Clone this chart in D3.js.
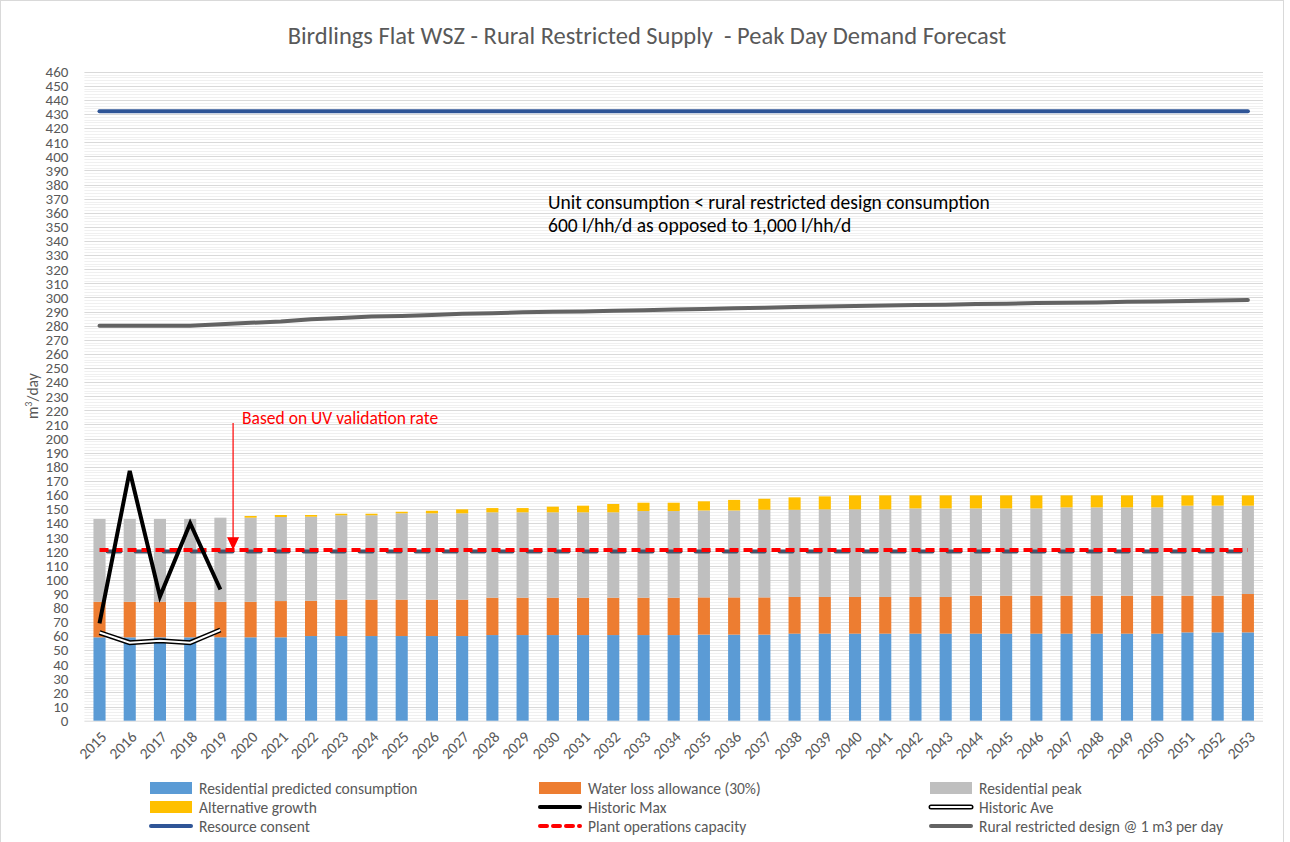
<!DOCTYPE html>
<html>
<head>
<meta charset="utf-8">
<script src="https://cdn.jsdelivr.net/npm/d3@7"></script>
<style>
  html, body { margin: 0; padding: 0; background: #fff; }
  svg text { font-family: Carlito, Calibri, 'Liberation Sans', Arial, sans-serif; }
</style>
</head>
<body>
<svg id="chart" width="1290" height="842"></svg>
<script>
// ---- data ----
const years = d3.range(2015, 2054).map(String);

const residentialPredicted = [
  59.1, 59.1, 59.1, 59.1, 59.1, 59.1, 59.1, 60, 60, 60,
  60, 60, 60, 60.7, 60.7, 60.7, 60.7, 60.7, 60.7, 60.7,
  61, 61, 61, 61.7, 61.7, 61.7, 61.7, 61.7, 61.7, 61.7,
  61.7, 61.7, 61.7, 61.7, 61.7, 61.7, 62.6, 62.6, 62.6
];
const waterLoss = [
  25.2, 25.2, 25.2, 25.2, 25.2, 25.2, 25.7, 25.0, 25.8, 25.8,
  25.8, 25.8, 25.8, 26.5, 26.5, 26.5, 26.5, 26.5, 26.5, 26.5,
  26.4, 26.4, 26.4, 26.0, 26.0, 26.0, 26.0, 26.0, 26.0, 26.9,
  26.9, 26.9, 26.9, 26.9, 26.9, 26.9, 26.0, 26.0, 27.2
];
const residentialPeak = [
  58.7, 58.7, 58.7, 58.7, 59.6, 59.6, 59.6, 59.6, 59.8, 59.8,
  61.2, 61.2, 61.2, 60.5, 60.5, 60.5, 60.5, 60.5, 61.4, 61.4,
  61.6, 61.6, 62.1, 61.8, 62.1, 62.1, 62.1, 62.8, 62.8, 61.9,
  61.9, 61.9, 62.6, 62.6, 62.6, 62.6, 63.8, 63.8, 62.6
];
const alternativeGrowth = [
  0, 0, 0, 0, 0, 1.2, 1.4, 1.2, 1.1, 1.1,
  1.1, 1.8, 2.8, 3.0, 3.0, 4.0, 4.7, 5.9, 5.9, 5.9,
  6.5, 7.5, 7.8, 8.8, 9.2, 9.9, 9.9, 9.2, 9.2, 9.2,
  9.2, 9.2, 8.5, 8.5, 8.5, 8.5, 7.3, 7.3, 7.3
];
const historicYears = ['2015', '2016', '2017', '2018', '2019'];
const historicMax = [69, 177, 88, 140, 93];
const historicAve = [62.5, 55.3, 56.7, 55.3, 64.3];
const resourceConsent = years.map(() => 432);
const plantCapacity = years.map(() => 121);
const referenceCapacity = years.map(() => 120);
const ruralDesign = [
  280, 280, 280, 280, 281, 282, 283, 284.5, 285.5, 286.5,
  286.8, 287.5, 288.5, 288.8, 289.5, 289.8, 290, 290.5, 291, 291.5,
  291.8, 292.3, 292.7, 293.3, 293.6, 294, 294.3, 294.6, 294.8, 295.3,
  295.5, 296, 296.3, 296.5, 297, 297.2, 297.4, 297.9, 298.2
];

const barSeries = [
  { key: 'res', name: 'Residential predicted consumption', values: residentialPredicted, color: '#5b9bd5' },
  { key: 'loss', name: 'Water loss allowance (30%)', values: waterLoss, color: '#ed7d31' },
  { key: 'peak', name: 'Residential peak', values: residentialPeak, color: '#bfbfbf' },
  { key: 'alt', name: 'Alternative growth', values: alternativeGrowth, color: '#ffc000' }
];

const TEXT = '#595959';
const svg = d3.select('#chart');

// chart frame
svg.append('rect')
  .attr('x', 0.5).attr('y', 0.5)
  .attr('width', 1283).attr('height', 860)
  .attr('fill', '#fff').attr('stroke', '#d9d9d9');

const x = d3.scaleBand().domain(years).range([84.4, 1263]).paddingInner(0.6).paddingOuter(0.3);
const y = d3.scaleLinear().domain([0, 460]).range([720.7, 71.7]);
const cx = d => x(d) + x.bandwidth() / 2;

// gridlines: minor every 2, major every 10
const grid = svg.append('g');
grid.selectAll('.minor')
  .data(d3.range(0, 461, 2).filter(v => v % 10 !== 0))
  .join('line')
  .attr('x1', 84.4).attr('x2', 1263)
  .attr('y1', d => Math.round(y(d)) + 0.5).attr('y2', d => Math.round(y(d)) + 0.5)
  .attr('stroke', '#f0f0f0');
grid.selectAll('.major')
  .data(d3.range(10, 461, 10))
  .join('line')
  .attr('x1', 84.4).attr('x2', 1263)
  .attr('y1', d => Math.round(y(d)) + 0.5).attr('y2', d => Math.round(y(d)) + 0.5)
  .attr('stroke', '#d9d9d9');

// y axis
const yAxis = svg.append('g')
  .attr('transform', 'translate(84.4,0)')
  .call(d3.axisLeft(y).tickValues(d3.range(0, 461, 10)).tickSize(0).tickPadding(16));
yAxis.select('.domain').remove();
yAxis.selectAll('text').attr('fill', TEXT).attr('font-size', 15);

// x axis
const xAxis = svg.append('g')
  .attr('transform', `translate(0,${y(0)})`)
  .call(d3.axisBottom(x).tickSize(0));
xAxis.select('.domain').attr('stroke', '#d9d9d9').attr('d', `M84.4,0.5H1263`);
xAxis.selectAll('text')
  .attr('fill', TEXT).attr('font-size', 15.5)
  .attr('text-anchor', 'end')
  .attr('dy', 0)
  .attr('transform', 'translate(6,15) rotate(-45)');

// stacked bars
const table = years.map((yr, i) => {
  const row = { year: yr };
  barSeries.forEach(s => { row[s.key] = s.values[i]; });
  return row;
});
const stack = d3.stack().keys(barSeries.map(s => s.key))(table);
svg.append('g').selectAll('g')
  .data(stack)
  .join('g')
  .attr('fill', (d, i) => barSeries[i].color)
  .selectAll('rect')
  .data(d => d)
  .join('rect')
  .attr('x', d => x(d.data.year))
  .attr('width', x.bandwidth())
  .attr('y', d => y(d[1]))
  .attr('height', d => Math.max(0, y(d[0]) - y(d[1])));

// lines
const line = d3.line().x(d => cx(d[0])).y(d => y(d[1]));
const pairs = (ks, vs) => ks.map((k, i) => [k, vs[i]]);

svg.append('path')
  .attr('d', line(pairs(years, resourceConsent)))
  .attr('fill', 'none').attr('stroke', '#2f5597').attr('stroke-width', 4).attr('stroke-linecap', 'round');

svg.append('path')
  .attr('d', line(pairs(years, ruralDesign)))
  .attr('fill', 'none').attr('stroke', '#636363').attr('stroke-width', 4).attr('stroke-linecap', 'round');

svg.append('path')
  .attr('d', line(pairs(years, referenceCapacity)))
  .attr('fill', 'none').attr('stroke', '#44546a').attr('stroke-width', 4)
  .attr('stroke-dasharray', '13,15').attr('stroke-dashoffset', 20).attr('stroke-linecap', 'round');

svg.append('path')
  .attr('d', line(pairs(years, plantCapacity)))
  .attr('fill', 'none').attr('stroke', '#ff0000').attr('stroke-width', 4)
  .attr('stroke-dasharray', '9,5');

// historic ave: double line (black outline, white core)
const aveD = line(pairs(historicYears, historicAve));
svg.append('path').attr('d', aveD).attr('fill', 'none').attr('stroke', '#000').attr('stroke-width', 5);
svg.append('path').attr('d', aveD).attr('fill', 'none').attr('stroke', '#fff').attr('stroke-width', 2);

svg.append('path')
  .attr('d', line(pairs(historicYears, historicMax)))
  .attr('fill', 'none').attr('stroke', '#000').attr('stroke-width', 4).attr('stroke-linejoin', 'miter');

// annotations
const arrowX = cx('2019') + x.step() * 0.42;
svg.append('line')
  .attr('x1', arrowX).attr('x2', arrowX)
  .attr('y1', y(211)).attr('y2', y(128))
  .attr('stroke', '#ff0000').attr('stroke-width', 1.2);
svg.append('path')
  .attr('d', `M${arrowX - 6},${y(130)}L${arrowX + 6},${y(130)}L${arrowX},${y(121)}Z`)
  .attr('fill', '#ff0000');
svg.append('text')
  .attr('x', arrowX + 9).attr('y', y(211) + 1)
  .attr('fill', '#ff0000').attr('font-size', 17.5)
  .text('Based on UV validation rate');

svg.append('text')
  .attr('x', 548).attr('y', 209)
  .attr('fill', '#000').attr('font-size', 19.5)
  .text('Unit consumption < rural restricted design consumption');
svg.append('text')
  .attr('x', 548).attr('y', 232)
  .attr('fill', '#000').attr('font-size', 19.5)
  .text('600  l/hh/d as opposed to 1,000 l/hh/d');

// title
svg.append('text')
  .attr('x', 647).attr('y', 44)
  .attr('text-anchor', 'middle')
  .attr('fill', TEXT).attr('font-size', 24.5)
  .style('white-space', 'pre')
  .text('Birdlings Flat WSZ - Rural Restricted Supply  - Peak Day Demand Forecast');

// y axis title
const yTitle = svg.append('text')
  .attr('transform', `translate(38,${y(230)}) rotate(-90)`)
  .attr('text-anchor', 'middle')
  .attr('fill', TEXT).attr('font-size', 15.5);
yTitle.append('tspan').text('m');
yTitle.append('tspan').attr('dy', -6).attr('font-size', 10).text('3');
yTitle.append('tspan').attr('dy', 6).text('/day');

// legend
const legendItems = [
  { name: 'Residential predicted consumption', type: 'rect', color: '#5b9bd5' },
  { name: 'Water loss allowance (30%)', type: 'rect', color: '#ed7d31' },
  { name: 'Residential peak', type: 'rect', color: '#bfbfbf' },
  { name: 'Alternative growth', type: 'rect', color: '#ffc000' },
  { name: 'Historic Max', type: 'line', color: '#000' },
  { name: 'Historic Ave', type: 'double', color: '#000' },
  { name: 'Resource consent', type: 'line', color: '#2f5597' },
  { name: 'Plant operations capacity', type: 'dash', color: '#ff0000' },
  { name: 'Rural restricted design @ 1 m3 per day', type: 'line', color: '#636363' }
];
const colX = [150, 539, 930];
const rowY = [788, 807, 826];
const legend = svg.append('g').selectAll('g')
  .data(legendItems)
  .join('g')
  .attr('transform', (d, i) => `translate(${colX[i % 3]},${rowY[Math.floor(i / 3)]})`);
legend.each(function (d) {
  const g = d3.select(this);
  if (d.type === 'rect') {
    g.append('rect').attr('x', 0).attr('y', -6).attr('width', 42).attr('height', 12).attr('fill', d.color);
  } else if (d.type === 'double') {
    g.append('line').attr('x1', 1).attr('x2', 41).attr('stroke', '#000').attr('stroke-width', 5).attr('stroke-linecap', 'round');
    g.append('line').attr('x1', 1).attr('x2', 41).attr('stroke', '#fff').attr('stroke-width', 2).attr('stroke-linecap', 'round');
  } else {
    g.append('line').attr('x1', 1).attr('x2', 41)
      .attr('stroke', d.color).attr('stroke-width', 4).attr('stroke-linecap', 'round')
      .attr('stroke-dasharray', d.type === 'dash' ? '7,6' : null);
  }
  g.append('text').attr('x', 49).attr('y', 5.5)
    .attr('fill', TEXT).attr('font-size', 15.5)
    .text(d.name);
});
</script>
</body>
</html>
